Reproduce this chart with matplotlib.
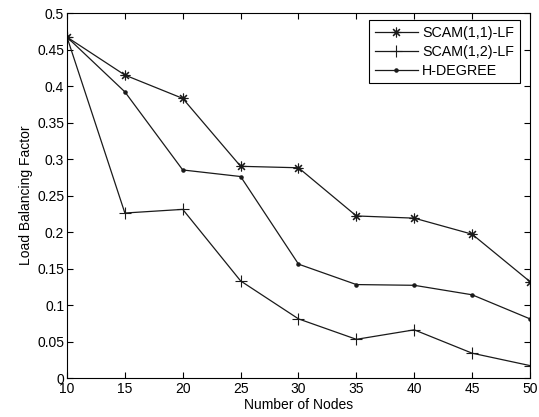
import matplotlib
matplotlib.use('Agg')
import matplotlib.pyplot as plt

plt.rcParams['font.family'] = ['Liberation Sans', 'DejaVu Sans']

nodes = [10, 15, 20, 25, 30, 35, 40, 45, 50]
scam11 = [0.467, 0.415, 0.383, 0.290, 0.288, 0.222, 0.219, 0.197, 0.132]
scam12 = [0.467, 0.226, 0.231, 0.133, 0.081, 0.053, 0.066, 0.034, 0.017]
hdegree = [0.467, 0.392, 0.285, 0.276, 0.156, 0.128, 0.127, 0.114, 0.081]

yticks = [0, 0.05, 0.1, 0.15, 0.2, 0.25, 0.3, 0.35, 0.4, 0.45, 0.5]
ylabels = ['0', '0.05', '0.1', '0.15', '0.2', '0.25', '0.3', '0.35', '0.4', '0.45', '0.5']

fig = plt.figure(figsize=(5.39, 4.17), dpi=100)
ax = fig.add_axes([0.1243, 0.0935, 0.859, 0.8753])

# asterisk marker: 8 spokes
ax.plot(nodes, scam11, color='#1a1a1a', lw=0.9, marker=(8, 2, 0), ms=7, mew=0.8,
        label='SCAM(1,1)-LF')
ax.plot(nodes, scam12, color='#1a1a1a', lw=0.9, marker='+', ms=8, mew=0.8,
        label='SCAM(1,2)-LF')
ax.plot(nodes, hdegree, color='#1a1a1a', lw=0.9, marker='.', ms=4.5,
        label='H-DEGREE')

ax.set_xlim(10, 50)
ax.set_ylim(0, 0.5)
ax.set_xticks(nodes)
ax.set_yticks(yticks)
ax.set_yticklabels(ylabels)
ax.tick_params(direction='in', top=True, right=True, labelsize=10, length=4,
               width=0.8)
ax.tick_params(axis='x', pad=3)
ax.tick_params(axis='y', pad=2)
for s in ax.spines.values():
    s.set_linewidth(0.8)

ax.set_xlabel('Number of Nodes', fontsize=10, labelpad=1)
ax.set_ylabel('Load Balancing Factor', fontsize=10, labelpad=3)

leg = ax.legend(loc='upper right', bbox_to_anchor=(0.978, 0.981), fontsize=10.3,
                fancybox=False, framealpha=1, edgecolor='black', borderpad=0.4,
                handlelength=3.0, labelspacing=0.35, borderaxespad=0,
                handletextpad=0.3)
leg.get_frame().set_linewidth(0.8)

fig.savefig('out.png', dpi=100)
